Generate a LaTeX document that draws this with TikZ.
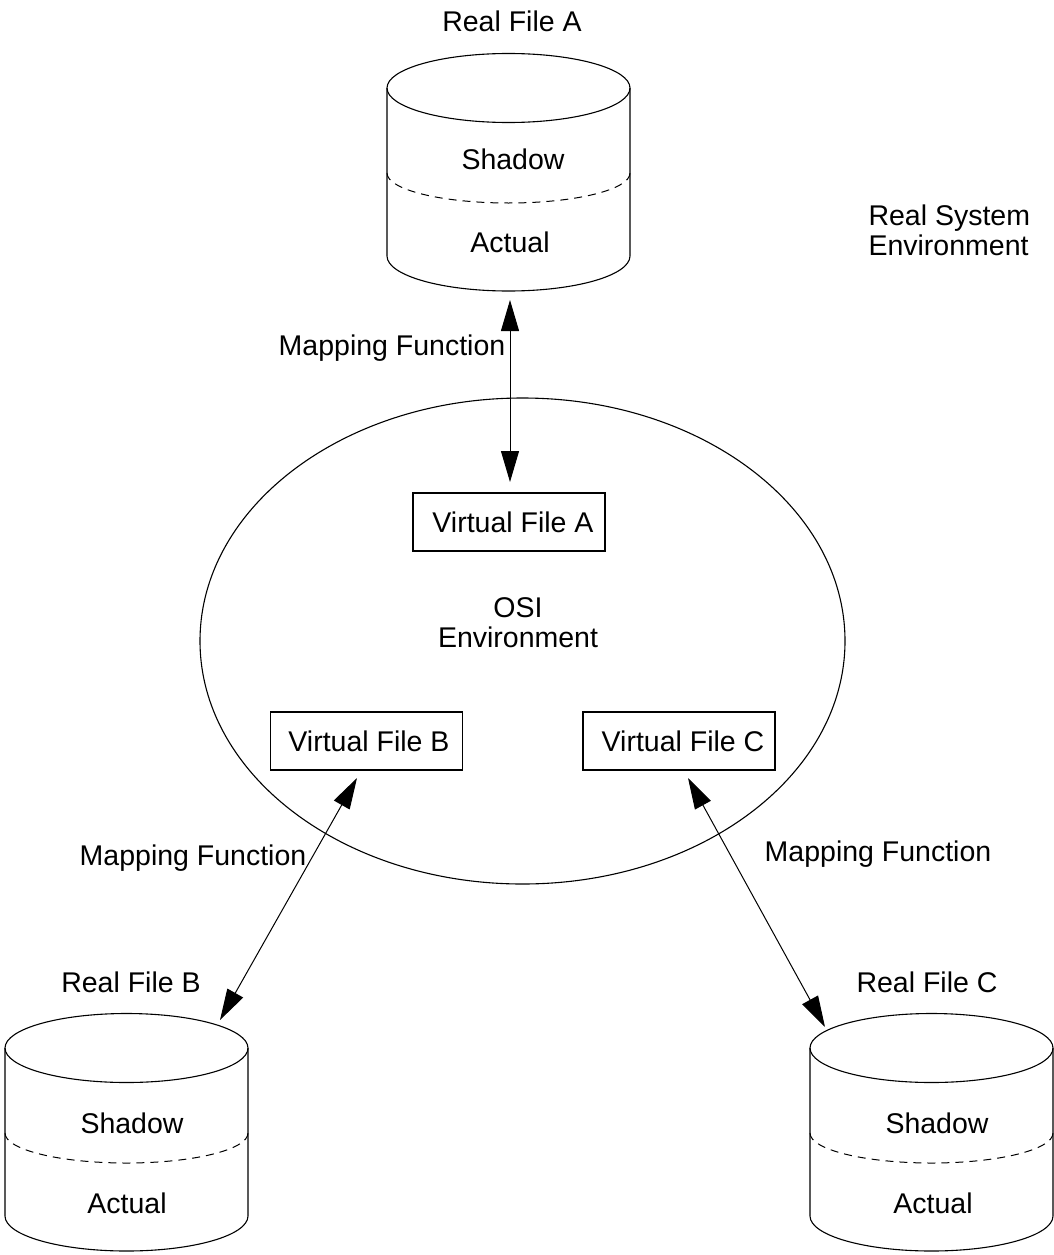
\documentclass[tikz,border=0pt]{standalone}
\usepackage{fontspec}
\setmainfont{Liberation Sans}
\usetikzlibrary{arrows.meta}

% A file drum: top face, sides, rounded base and a dashed split line.
% #1 name of the top-face centre, #2 centre x, #3 centre y of the top face
\newcommand\filedrum[3]{%
  \draw (#2,#3) ellipse [x radius=121.5pt, y radius=34.5pt];
  \draw (#2-121.5,#3) -- (#2-121.5,#3+168)
        arc[start angle=180, end angle=360, x radius=121.5pt, y radius=35pt]
        -- (#2+121.5,#3);
  \draw[splitline] (#2-121.5,#3+85)
        arc[start angle=180, end angle=360, x radius=121.5pt, y radius=30pt];
  \coordinate (#1) at (#2,#3);
}

\begin{document}
\begin{tikzpicture}[x=1pt, y=-1pt, line width=1.1pt,
  every node/.style={font=\fontsize{28.5}{30}\selectfont, inner sep=0pt},
  lbl/.style={anchor=base},
  vbox/.style={draw, line width=1.2pt, minimum width=192pt, minimum height=58pt},
  biarrow/.style={{Triangle[length=31pt,width=18pt]}-{Triangle[length=31pt,width=18pt]}, line width=1pt},
  splitline/.style={dash pattern=on 8pt off 6pt, line width=1pt}]

\useasboundingbox (0,0) rectangle (1054,1255);

% real system side: three file drums
\filedrum{rfa}{508.5}{88}
\filedrum{rfb}{126.5}{1048}
\filedrum{rfc}{931.5}{1048}

\node[lbl] (rfalbl) at (512,32) {Real File A};
\node[lbl] (shadowa) at (513,169) {Shadow};
\node[lbl] (actuala) at (510,252) {Actual};

\node[lbl] (rfblbl) at (131,992) {Real File B};
\node[lbl] (shadowb) at (132,1133) {Shadow};
\node[lbl] (actualb) at (127,1213) {Actual};

\node[lbl] (rfclbl) at (927,992) {Real File C};
\node[lbl] (shadowc) at (937,1133) {Shadow};
\node[lbl] (actualc) at (933,1213) {Actual};

% two-line labels: the base anchor sits on the last line
\node[anchor=base west, align=left] (rse) at (868,255) {Real System\\Environment};

% OSI environment
\draw (522.5,641) ellipse [x radius=322.5pt, y radius=243pt];
\node[lbl, align=center] (osi) at (518,647) {OSI\\Environment};

\node[vbox] (vfa) at (509,522) {\hspace*{8pt}Virtual File A};
\node[vbox] (vfb) at (366.5,741) {\hspace*{5pt}Virtual File B};
\node[vbox] (vfc) at (679,741) {\hspace*{8pt}Virtual File C};

% arrow end points
\coordinate (pa1) at (510,300);
\coordinate (pa2) at (510,482);
\coordinate (pb1) at (357,778);
\coordinate (pb2) at (220,1020);
\coordinate (pc1) at (688,778);
\coordinate (pc2) at (825,1027);

% mapping functions
\draw[biarrow] (pa1) -- (pa2);
\draw[biarrow] (pb1) -- (pb2);
\draw[biarrow] (pc1) -- (pc2);

\node[lbl] (mfa) at (392,355) {Mapping Function};
\node[lbl] (mfb) at (193,865) {Mapping Function};
\node[lbl] (mfc) at (878,861) {Mapping Function};
\end{tikzpicture}
\end{document}
